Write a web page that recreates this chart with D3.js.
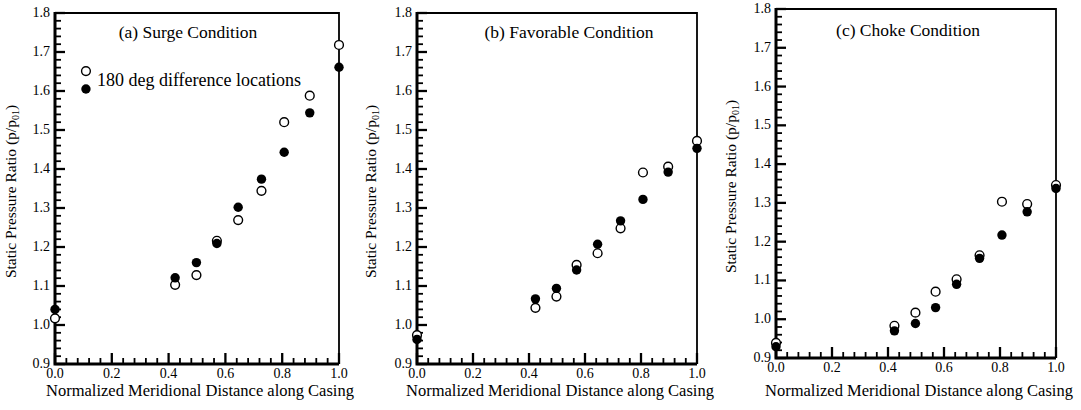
<!DOCTYPE html>
<html>
<head>
<meta charset="utf-8">
<script src="https://cdn.jsdelivr.net/npm/d3@7"></script>
<style>
  html, body { margin: 0; padding: 0; background: #fff; }
  svg { display: block; }
</style>
</head>
<body>
<svg id="chart" width="1081" height="410"></svg>
<script>
// ---- data ----
const xPositions = [0.0, 0.423, 0.498, 0.57, 0.645, 0.727, 0.807, 0.897, 1.0];

const surgeOpen   = [1.017, 1.103, 1.128, 1.216, 1.269, 1.344, 1.520, 1.588, 1.718];
const surgeFilled = [1.040, 1.121, 1.160, 1.209, 1.302, 1.374, 1.443, 1.544, 1.661];

const favorOpen   = [0.974, 1.044, 1.073, 1.154, 1.184, 1.248, 1.391, 1.406, 1.472];
const favorFilled = [0.963, 1.067, 1.094, 1.141, 1.207, 1.267, 1.322, 1.392, 1.453];

const chokeOpen   = [0.939, 0.983, 1.017, 1.071, 1.103, 1.165, 1.303, 1.297, 1.346];
const chokeFilled = [0.929, 0.970, 0.989, 1.030, 1.090, 1.157, 1.217, 1.277, 1.337];

const panelTitles = ["(a) Surge Condition", "(b) Favorable Condition", "(c) Choke Condition"];
const xTickValues = [0.0, 0.2, 0.4, 0.6, 0.8, 1.0];
const yTickValues = [0.9, 1.0, 1.1, 1.2, 1.3, 1.4, 1.5, 1.6, 1.7, 1.8];
const xMinorTicks = [0.04, 0.08, 0.12, 0.16, 0.24, 0.28, 0.32, 0.36, 0.44, 0.48, 0.52, 0.56,
                     0.64, 0.68, 0.72, 0.76, 0.84, 0.88, 0.92, 0.96];
const yMinorTicks = [0.92, 0.94, 0.96, 0.98, 1.02, 1.04, 1.06, 1.08, 1.12, 1.14, 1.16, 1.18,
                     1.22, 1.24, 1.26, 1.28, 1.32, 1.34, 1.36, 1.38, 1.42, 1.44, 1.46, 1.48,
                     1.52, 1.54, 1.56, 1.58, 1.62, 1.64, 1.66, 1.68, 1.72, 1.74, 1.76, 1.78];
const xDomain = [0, 1];
const yDomain = [0.9, 1.8];
const xLabel = "Normalized Meridional Distance along Casing";
const yLabelMain = "Static Pressure Ratio (p/p";
const yLabelSub = "01";
const legendText = "180 deg difference locations";
const legendPos = { x: 0.109, yOpen: 1.651, yFilled: 1.605, textY: 1.628 };

// ---- layout ----
const FONT = "Liberation Serif";
const INK = "#000";
const panels = [
  { title: panelTitles[0], open: surgeOpen, filled: surgeFilled, xr: [55, 339], yr: [364, 13], titleX: 188, titleY: 38, ylabX: 16, legend: true },
  { title: panelTitles[1], open: favorOpen, filled: favorFilled, xr: [417, 697], yr: [364, 13], titleX: 569, titleY: 38, ylabX: 376, legend: false },
  { title: panelTitles[2], open: chokeOpen, filled: chokeFilled, xr: [776, 1056], yr: [358, 9], titleX: 908, titleY: 36, ylabX: 736, legend: false }
];

const svg = d3.select("#chart");
const fmt = d3.format(".1f");

panels.forEach(p => {
  const x = d3.scaleLinear().domain(xDomain).range(p.xr);
  const y = d3.scaleLinear().domain(yDomain).range(p.yr);
  const g = svg.append("g");
  const x0 = x(0), y0 = y(0.9);

  // frame: top and right
  g.append("path")
    .attr("d", `M${x0},${y(1.8)} L${x(1)},${y(1.8)} L${x(1)},${y0}`)
    .attr("fill", "none").attr("stroke", INK).attr("stroke-width", 1.8);

  // ticks (inward)
  g.selectAll("line.xminor").data(xMinorTicks).join("line").attr("class", "xminor")
    .attr("x1", d => x(d)).attr("x2", d => x(d)).attr("y1", y0).attr("y2", y0 - 6)
    .attr("stroke", INK).attr("stroke-width", 1.8);
  g.selectAll("line.xmajor").data(xTickValues).join("line").attr("class", "xmajor")
    .attr("x1", d => x(d)).attr("x2", d => x(d)).attr("y1", y0).attr("y2", y0 - 11)
    .attr("stroke", INK).attr("stroke-width", 2.3);
  g.selectAll("line.yminor").data(yMinorTicks).join("line").attr("class", "yminor")
    .attr("y1", d => y(d)).attr("y2", d => y(d)).attr("x1", x0).attr("x2", x0 + 6)
    .attr("stroke", INK).attr("stroke-width", 1.8);
  g.selectAll("line.ymajor").data(yTickValues).join("line").attr("class", "ymajor")
    .attr("y1", d => y(d)).attr("y2", d => y(d)).attr("x1", x0).attr("x2", x0 + 10)
    .attr("stroke", INK).attr("stroke-width", 2.3);

  // axis lines
  g.append("path")
    .attr("d", `M${x0},${y(1.8) - 1} L${x0},${y0} L${x(1)},${y0}`)
    .attr("fill", "none").attr("stroke", INK).attr("stroke-width", 3);

  // tick labels
  g.selectAll("text.xtl").data(xTickValues).join("text").attr("class", "xtl")
    .attr("x", d => x(d)).attr("y", y0 + 14)
    .attr("text-anchor", "middle").style("font-family", FONT).attr("font-size", 14).attr("fill", INK)
    .text(fmt);
  g.selectAll("text.ytl").data(yTickValues).join("text").attr("class", "ytl")
    .attr("x", x0 - 5).attr("y", d => y(d) + 4)
    .attr("text-anchor", "end").style("font-family", FONT).attr("font-size", 14).attr("fill", INK)
    .text(fmt);

  // title
  g.append("text").attr("x", p.titleX).attr("y", p.titleY)
    .attr("text-anchor", "middle").style("font-family", FONT).attr("font-size", 17.5).attr("fill", INK)
    .text(p.title);

  // x label
  g.append("text").attr("x", (p.xr[0] + p.xr[1]) / 2 + 3).attr("y", 396)
    .attr("text-anchor", "middle").style("font-family", FONT).attr("font-size", 16.5).attr("fill", INK)
    .text(xLabel);

  // y label
  const yl = g.append("text")
    .attr("transform", `translate(${p.ylabX},${(p.yr[0] + p.yr[1]) / 2 + 3}) rotate(-90)`)
    .attr("text-anchor", "middle").style("font-family", FONT).attr("font-size", 15.5).attr("fill", INK);
  yl.append("tspan").text(yLabelMain);
  yl.append("tspan").attr("font-size", 10).attr("dy", 3).text(yLabelSub);
  yl.append("tspan").attr("dy", -3).text(")");

  // data: open then filled
  const data = xPositions.map((xv, i) => ({ x: xv, o: p.open[i], f: p.filled[i] }));
  g.selectAll("circle.open").data(data).join("circle").attr("class", "open")
    .attr("cx", d => x(d.x)).attr("cy", d => y(d.o)).attr("r", 4.4)
    .attr("fill", "#fff").attr("stroke", INK).attr("stroke-width", 1.4);
  g.selectAll("circle.filled").data(data).join("circle").attr("class", "filled")
    .attr("cx", d => x(d.x)).attr("cy", d => y(d.f)).attr("r", 4.7)
    .attr("fill", INK);

  if (p.legend) {
    g.append("circle").attr("cx", x(legendPos.x)).attr("cy", y(legendPos.yOpen)).attr("r", 4.4)
      .attr("fill", "#fff").attr("stroke", INK).attr("stroke-width", 1.4);
    g.append("circle").attr("cx", x(legendPos.x)).attr("cy", y(legendPos.yFilled)).attr("r", 4.7)
      .attr("fill", INK);
    g.append("text").attr("x", x(legendPos.x) + 11).attr("y", y(legendPos.textY) + 6)
      .style("font-family", FONT).attr("font-size", 18).attr("fill", INK).text(legendText);
  }
});
</script>
</body>
</html>
